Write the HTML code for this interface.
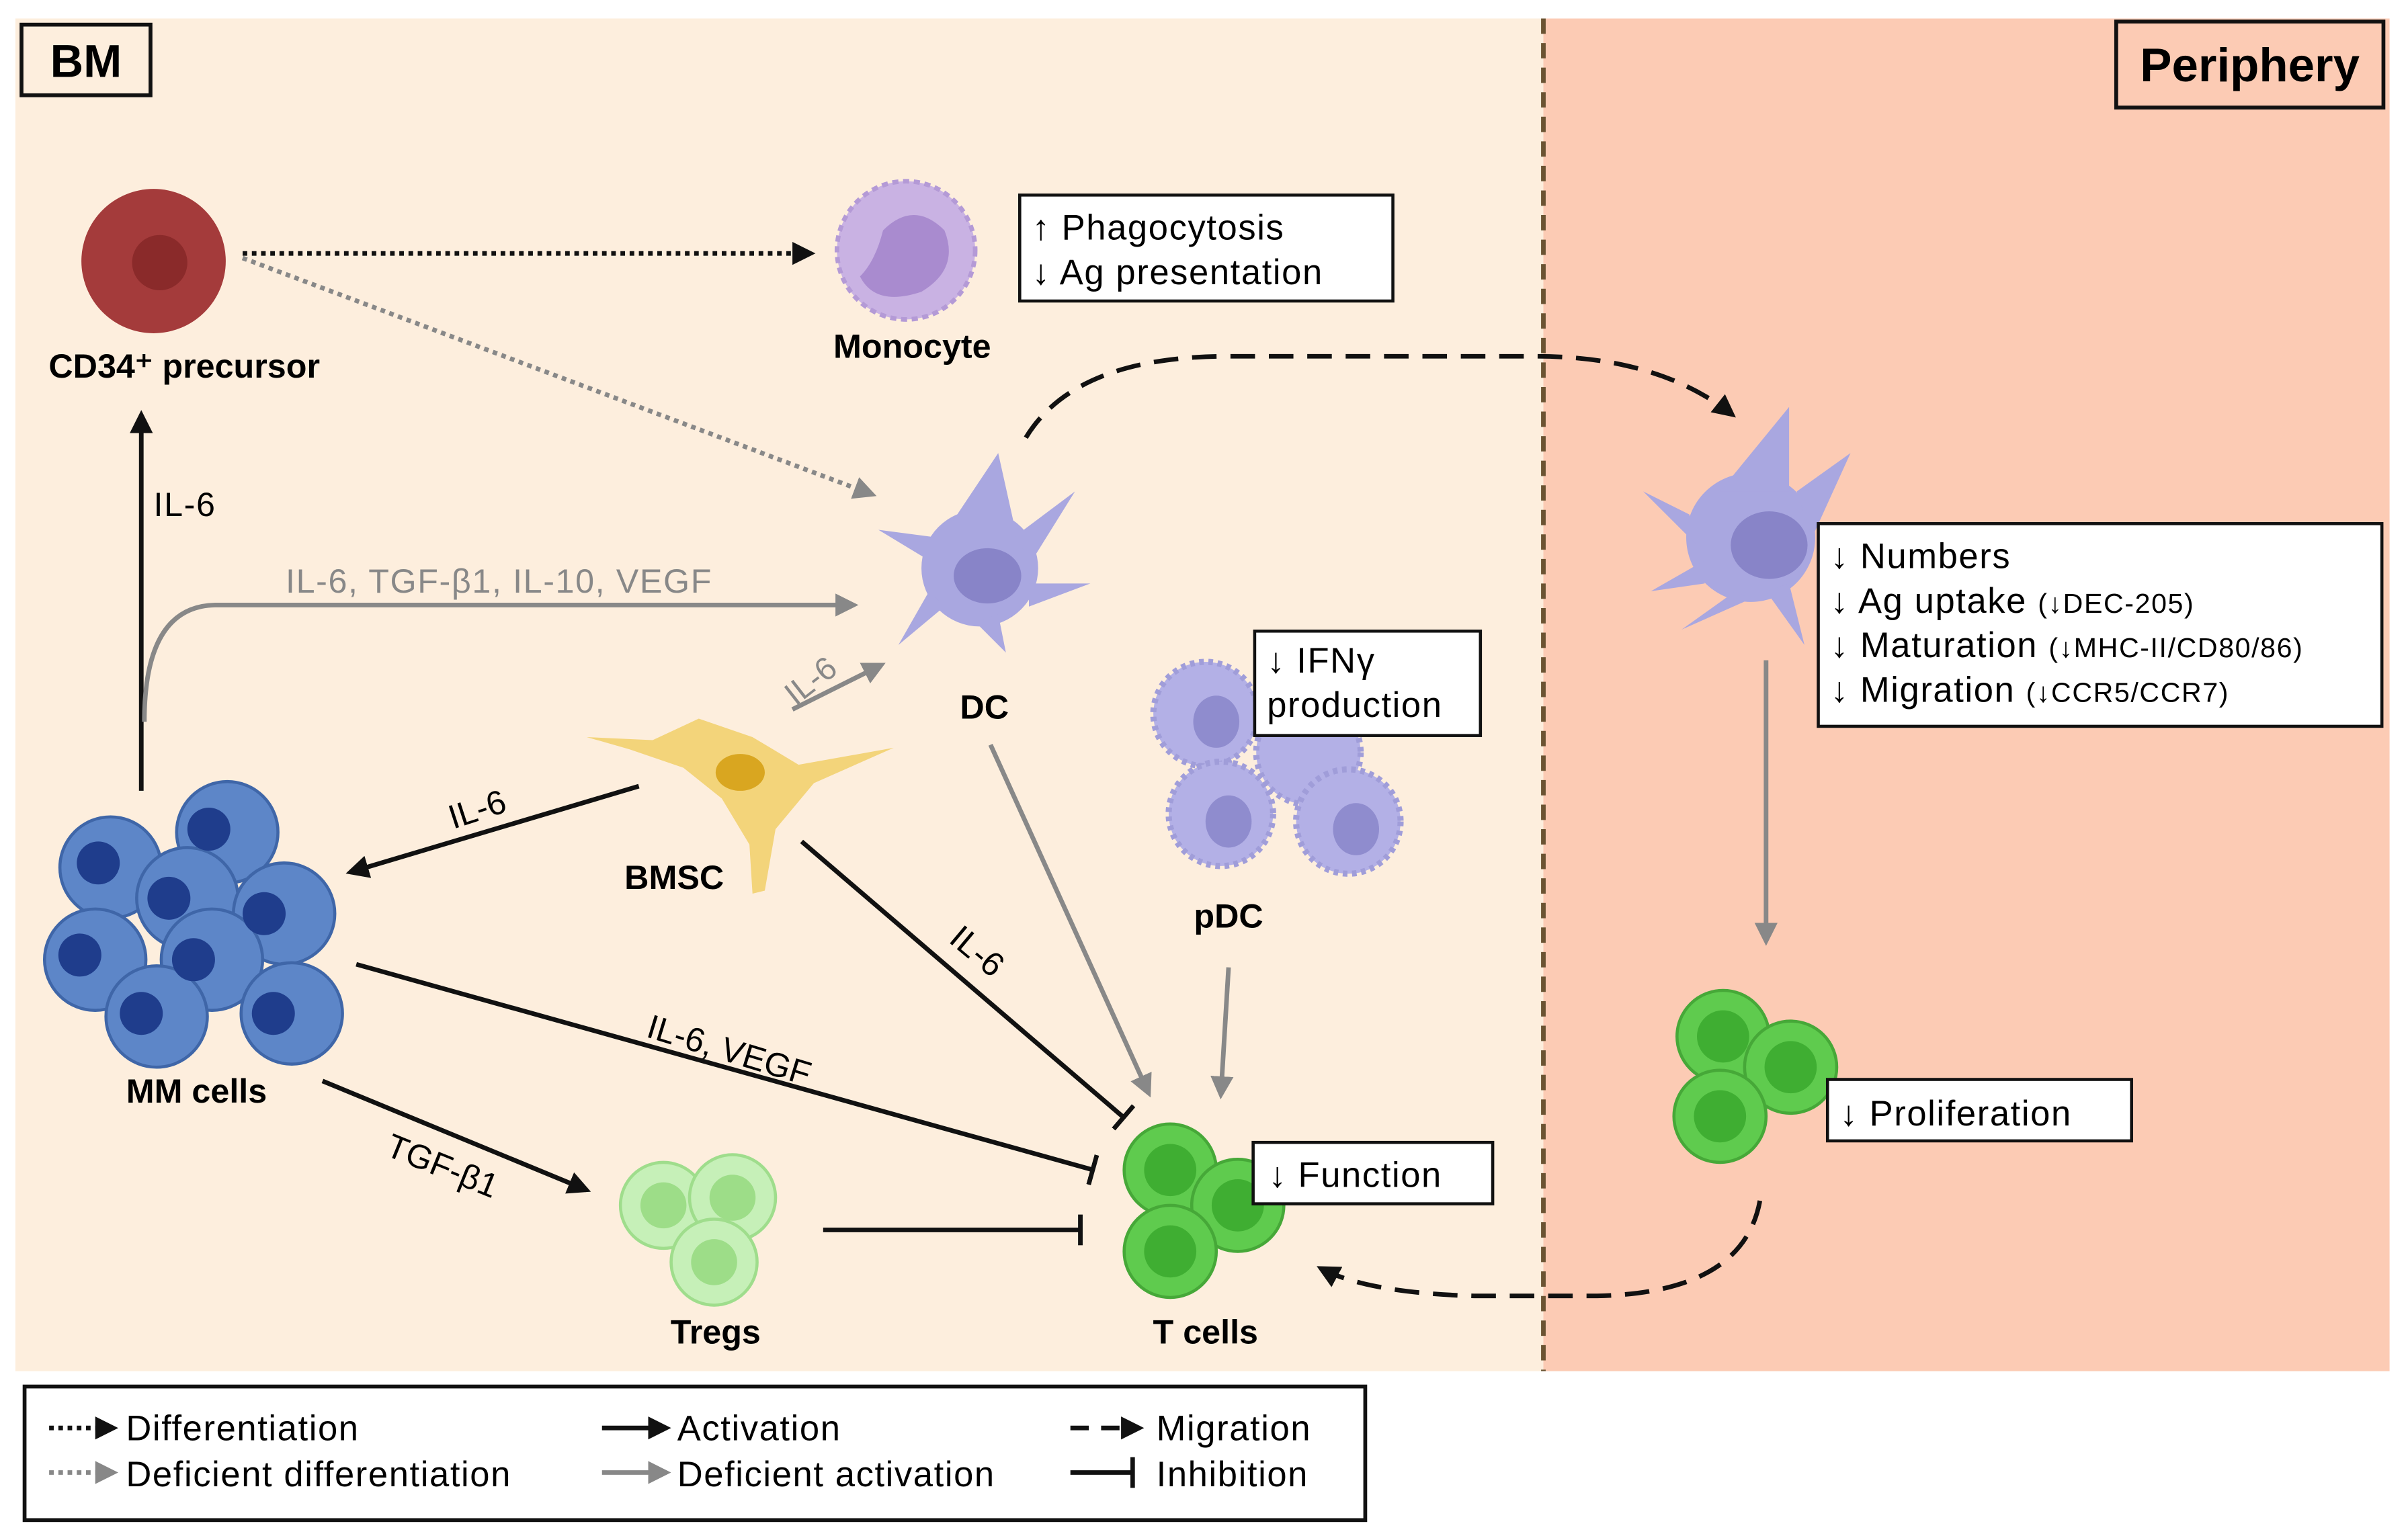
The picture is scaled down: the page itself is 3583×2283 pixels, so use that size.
<!DOCTYPE html>
<html><head><meta charset="utf-8"><style>
html,body{margin:0;padding:0;background:#fff;}
svg{display:block;}
text{font-family:"Liberation Sans",sans-serif;}
.w{letter-spacing:0.7px;}
</style></head><body>
<svg width="3583" height="2283" viewBox="0 0 1568 999" xmlns="http://www.w3.org/2000/svg">
<defs>
<marker id="ab" viewBox="0 0 10 10" refX="8" refY="5" markerWidth="5" markerHeight="5" orient="auto"><path d="M0,0L10,5L0,10z" fill="#111"/></marker>
<marker id="ag" viewBox="0 0 10 10" refX="8" refY="5" markerWidth="5" markerHeight="5" orient="auto"><path d="M0,0L10,5L0,10z" fill="#888"/></marker>
<marker id="tb" viewBox="0 0 4 20" refX="2" refY="10" markerWidth="4" markerHeight="20" orient="auto" markerUnits="userSpaceOnUse"><rect x="0" y="0" width="3" height="20" fill="#111"/></marker>
</defs>
<rect x="10" y="12" width="995" height="881" fill="#fdeedd"/>
<rect x="1005" y="12" width="551" height="881" fill="#fccbb4"/>
<line x1="1005" y1="12" x2="1005" y2="893" stroke="#6b5433" stroke-width="3" stroke-dasharray="10,6"/>
<rect x="14" y="16" width="84" height="46" fill="#fdeedd" stroke="#111" stroke-width="2.5"/>
<text x="56" y="50" font-size="30" font-weight="bold" text-anchor="middle">BM</text>
<rect x="1378" y="14" width="174" height="56" fill="#fccbb4" stroke="#111" stroke-width="2.5"/>
<text x="1465" y="53" font-size="31" font-weight="bold" text-anchor="middle">Periphery</text>

<circle cx="100" cy="170" r="47" fill="#a43b3b"/>
<circle cx="104" cy="171" r="18" fill="#8a2a2a"/>
<text x="120" y="246" font-size="22" font-weight="bold" text-anchor="middle">CD34⁺ precursor</text>
<circle cx="590" cy="163" r="45" fill="#c9b2e3" stroke="#b49ad6" stroke-width="3" stroke-dasharray="4,3"/>
<path d="M575,150 q20,-20 40,0 q10,25 -15,40 q-30,10 -40,-10 q10,-10 15,-30z" fill="#a98bcf"/>
<text x="594" y="233" font-size="22" font-weight="bold" text-anchor="middle">Monocyte</text>
<rect x="664" y="127" width="243" height="69" fill="#fff" stroke="#111" stroke-width="2"/>
<text class="w" x="672" y="156" font-size="23">↑ Phagocytosis</text>
<text class="w" x="672" y="185" font-size="23">↓ Ag presentation</text>

<g fill="#a9a7e0">
<circle cx="638" cy="370" r="38"/>
<path d="M620,340 L650,295 L660,340z M660,350 L700,320 L672,365z M670,380 L710,380 L670,395z M650,400 L655,425 L635,405z M615,395 L585,420 L605,385z M605,365 L572,345 L610,350z"/>
</g>
<ellipse cx="643" cy="375" rx="22" ry="18" fill="#8884c8"/>
<text x="641" y="468" font-size="22" font-weight="bold" text-anchor="middle">DC</text>
<g fill="#a9a7e0">
<circle cx="1140" cy="350" r="42"/>
<path d="M1120,320 L1165,265 L1165,320z M1170,320 L1205,295 L1180,350z M1100,335 L1070,320 L1105,355z M1110,380 L1075,385 L1110,365z M1130,385 L1095,410 L1140,390z M1165,380 L1175,420 L1150,385z"/>
</g>
<ellipse cx="1152" cy="355" rx="25" ry="22" fill="#8884c8"/>
<rect x="1184" y="341" width="367" height="132" fill="#fff" stroke="#111" stroke-width="2"/>
<text class="w" x="1192" y="370" font-size="23">↓ Numbers</text>
<text class="w" x="1192" y="399" font-size="23">↓ Ag uptake <tspan font-size="18">(↓DEC-205)</tspan></text>
<text class="w" x="1192" y="428" font-size="23">↓ Maturation <tspan font-size="18">(↓MHC-II/CD80/86)</tspan></text>
<text class="w" x="1192" y="457" font-size="23">↓ Migration <tspan font-size="18">(↓CCR5/CCR7)</tspan></text>

<g fill="#b3b0e6" stroke="#a09dd9" stroke-width="4" stroke-dasharray="3,3">
<circle cx="785" cy="465" r="34"/><circle cx="852" cy="490" r="34"/><circle cx="795" cy="530" r="34"/><circle cx="878" cy="535" r="34"/>
</g>
<g fill="#8f8cce"><ellipse cx="792" cy="470" rx="15" ry="17"/><ellipse cx="800" cy="535" rx="15" ry="17"/><ellipse cx="883" cy="540" rx="15" ry="17"/></g>
<rect x="817" y="411" width="147" height="68" fill="#fff" stroke="#111" stroke-width="2"/>
<text class="w" x="825" y="438" font-size="23">↓ IFNγ</text>
<text class="w" x="825" y="467" font-size="23">production</text>
<text x="800" y="604" font-size="22" font-weight="bold" text-anchor="middle">pDC</text>

<path d="M382,480 L425,482 L455,468 L490,480 L520,498 L582,487 L530,510 L505,540 L498,580 L490,582 L488,550 L470,520 L445,500 L410,488z" fill="#f3d47a"/>
<ellipse cx="482" cy="503" rx="16" ry="12" fill="#d9a620"/>
<text x="439" y="579" font-size="22" font-weight="bold" text-anchor="middle">BMSC</text>

<g fill="#5d86c8" stroke="#3f66a8" stroke-width="2">
<circle cx="148" cy="542" r="33"/><circle cx="72" cy="565" r="33"/><circle cx="122" cy="585" r="33"/><circle cx="185" cy="595" r="33"/><circle cx="62" cy="625" r="33"/><circle cx="138" cy="625" r="33"/><circle cx="102" cy="662" r="33"/><circle cx="190" cy="660" r="33"/>
</g>
<g fill="#1f3d8c">
<circle cx="136" cy="540" r="14"/><circle cx="64" cy="562" r="14"/><circle cx="110" cy="585" r="14"/><circle cx="172" cy="595" r="14"/><circle cx="52" cy="622" r="14"/><circle cx="126" cy="625" r="14"/><circle cx="92" cy="660" r="14"/><circle cx="178" cy="660" r="14"/>
</g>
<text x="128" y="718" font-size="22" font-weight="bold" text-anchor="middle">MM cells</text>

<g fill="#c6f0b8" stroke="#9fdd8c" stroke-width="2">
<circle cx="432" cy="785" r="28"/><circle cx="477" cy="780" r="28"/><circle cx="465" cy="822" r="28"/>
</g>
<g fill="#9ddd88"><circle cx="432" cy="785" r="15"/><circle cx="477" cy="780" r="15"/><circle cx="465" cy="822" r="15"/></g>
<text x="466" y="875" font-size="22" font-weight="bold" text-anchor="middle">Tregs</text>

<g fill="#5fcb4e" stroke="#46a838" stroke-width="2">
<circle cx="762" cy="762" r="30"/><circle cx="806" cy="785" r="30"/><circle cx="762" cy="815" r="30"/>
</g>
<g fill="#3fae32"><circle cx="762" cy="762" r="17"/><circle cx="806" cy="785" r="17"/><circle cx="762" cy="815" r="17"/></g>
<rect x="816" y="744" width="156" height="40" fill="#fff" stroke="#111" stroke-width="2"/>
<text class="w" x="826" y="773" font-size="23">↓ Function</text>
<text x="785" y="875" font-size="22" font-weight="bold" text-anchor="middle">T cells</text>

<g fill="#5fcb4e" stroke="#46a838" stroke-width="2">
<circle cx="1122" cy="675" r="30"/><circle cx="1166" cy="695" r="30"/><circle cx="1120" cy="727" r="30"/>
</g>
<g fill="#3fae32"><circle cx="1122" cy="675" r="17"/><circle cx="1166" cy="695" r="17"/><circle cx="1120" cy="727" r="17"/></g>
<rect x="1190" y="703" width="198" height="40" fill="#fff" stroke="#111" stroke-width="2"/>
<text class="w" x="1198" y="733" font-size="23">↓ Proliferation</text>

<line x1="158" y1="165" x2="528" y2="165" stroke="#111" stroke-width="3" stroke-dasharray="3,3" marker-end="url(#ab)"/>
<line x1="158" y1="168" x2="568" y2="322" stroke="#888" stroke-width="3" stroke-dasharray="3,3" marker-end="url(#ag)"/>
<line x1="92" y1="515" x2="92" y2="270" stroke="#111" stroke-width="3" marker-end="url(#ab)"/>
<text class="w" x="100" y="336" font-size="22">IL-6</text>
<path d="M94,470 Q94,395 140,394 L556,394" fill="none" stroke="#888" stroke-width="3" marker-end="url(#ag)"/>
<text class="w" x="186" y="386" font-size="22" fill="#888">IL-6, TGF-β1, IL-10, VEGF</text>
<line x1="516" y1="462" x2="574" y2="433" stroke="#888" stroke-width="3" marker-end="url(#ag)"/>
<text x="518" y="460" font-size="21" fill="#888" transform="rotate(-38 518 460)">IL-6</text>
<line x1="416" y1="512" x2="228" y2="568" stroke="#111" stroke-width="3" marker-end="url(#ab)"/>
<text x="295" y="540" font-size="22" transform="rotate(-18 295 540)">IL-6</text>
<line x1="522" y1="548" x2="732" y2="728" stroke="#111" stroke-width="3" marker-end="url(#tb)"/>
<text x="617" y="613" font-size="22" transform="rotate(40 617 613)">IL-6</text>
<line x1="232" y1="628" x2="712" y2="762" stroke="#111" stroke-width="3" marker-end="url(#tb)"/>
<text x="420" y="675" font-size="22" transform="rotate(17 420 675)">IL-6, VEGF</text>
<line x1="210" y1="704" x2="382" y2="775" stroke="#111" stroke-width="3" marker-end="url(#ab)"/>
<text x="250" y="752" font-size="22" transform="rotate(22 250 752)">TGF-β1</text>
<line x1="536" y1="801" x2="704" y2="801" stroke="#111" stroke-width="3" marker-end="url(#tb)"/>
<line x1="645" y1="485" x2="748" y2="712" stroke="#888" stroke-width="3" marker-end="url(#ag)"/>
<line x1="800" y1="630" x2="795" y2="713" stroke="#888" stroke-width="3" marker-end="url(#ag)"/>
<line x1="1150" y1="430" x2="1150" y2="613" stroke="#888" stroke-width="3" marker-end="url(#ag)"/>
<path d="M668,285 Q700,232 800,232 L1000,232 Q1080,232 1128,270" fill="none" stroke="#111" stroke-width="3" stroke-dasharray="16,9" marker-end="url(#ab)"/>
<path d="M1146,782 Q1135,842 1040,844 L960,844 Q890,842 860,826" fill="none" stroke="#111" stroke-width="3" stroke-dasharray="16,9" marker-end="url(#ab)"/>

<rect x="16" y="903" width="873" height="87" fill="#fff" stroke="#111" stroke-width="2.5"/>
<line x1="32" y1="930" x2="74" y2="930" stroke="#111" stroke-width="3" stroke-dasharray="3,3" marker-end="url(#ab)"/>
<text class="w" x="82" y="938" font-size="23">Differentiation</text>
<line x1="32" y1="959" x2="74" y2="959" stroke="#888" stroke-width="3" stroke-dasharray="3,3" marker-end="url(#ag)"/>
<text class="w" x="82" y="968" font-size="23">Deficient differentiation</text>
<line x1="392" y1="930" x2="434" y2="930" stroke="#111" stroke-width="3" marker-end="url(#ab)"/>
<text class="w" x="441" y="938" font-size="23">Activation</text>
<line x1="392" y1="959" x2="434" y2="959" stroke="#888" stroke-width="3" marker-end="url(#ag)"/>
<text class="w" x="441" y="968" font-size="23">Deficient activation</text>
<line x1="697" y1="930" x2="742" y2="930" stroke="#111" stroke-width="3" stroke-dasharray="12,8" marker-end="url(#ab)"/>
<text class="w" x="753" y="938" font-size="23">Migration</text>
<line x1="697" y1="959" x2="738" y2="959" stroke="#111" stroke-width="3" marker-end="url(#tb)"/>
<text class="w" x="753" y="968" font-size="23">Inhibition</text>
</svg>
</body></html>
